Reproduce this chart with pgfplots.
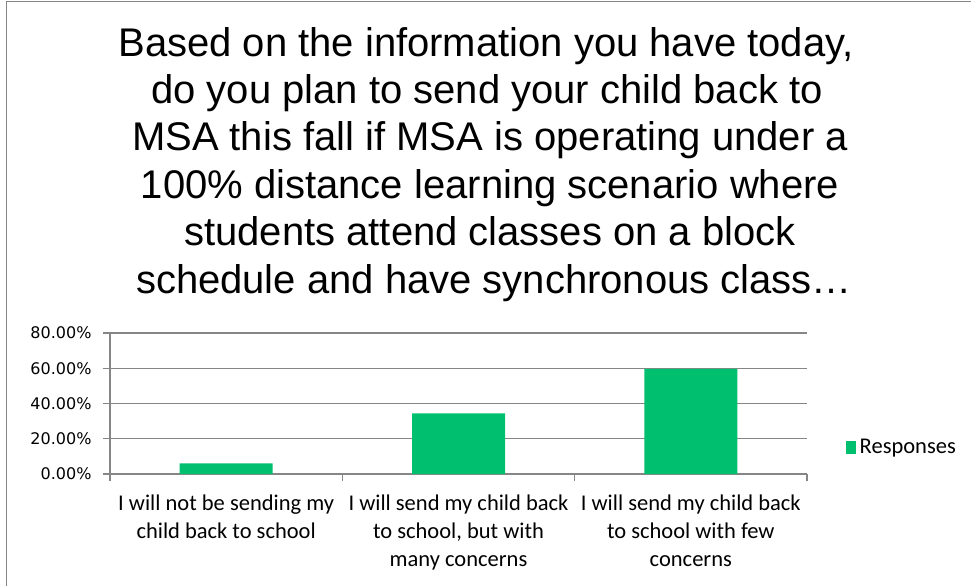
\documentclass[border=0pt]{standalone}
\usepackage{fontspec}
\setmainfont{Liberation Sans}
\newfontfamily\calibri{Carlito}
\newfontfamily\tickfont{DejaVu Sans}
\usepackage{pgfplots}
\pgfplotsset{compat=1.18}
\definecolor{bargreen}{RGB}{0,191,111}
\definecolor{axgray}{RGB}{134,134,134}
\begin{document}
\begin{tikzpicture}
\useasboundingbox (0,0) rectangle (971bp,-586bp);
\draw[axgray, line width=1.5bp] (6.5bp,-586bp) -- (6.5bp,-1.5bp) -- (971bp,-1.5bp);
\begin{scope}[every node/.style={anchor=base, font=\fontsize{40bp}{44bp}\selectfont, inner sep=0pt}]
\node at (486bp,-56bp) {Based on the information you have today,};
\node at (487bp,-103.4bp) {do you plan to send your child back to};
\node at (490bp,-150.8bp) {MSA this fall if MSA is operating under a};
\node at (490bp,-198.2bp) {100\% distance learning scenario where};
\node at (490bp,-245.6bp) {students attend classes on a block};
\node at (494bp,-293bp) {schedule and have synchronous class…};
\end{scope}
\begin{axis}[
  at={(110bp,-474bp)}, anchor=south west,
  scale only axis, width=697bp, height=141bp,
  xmin=-0.5, xmax=2.5, ymin=0, ymax=80,
  ybar, bar width=93bp,
  axis x line*=bottom, axis y line*=left,
  axis line style={axgray, line width=1.2bp},
  ytick={0,20,40,60,80},
  yticklabels={0.00\%,20.00\%,40.00\%,60.00\%,80.00\%},
  ymajorgrids, grid style={axgray, line width=1.2bp},
  xtick={0,1,2},
  xticklabels={{I will not be sending my\\child back to school},{I will send my child back\\to school, but with\\many concerns},{I will send my child back\\to school with few\\concerns}},
  minor xtick={-0.5,0.5,1.5,2.5},
  tick align=outside, major tick length=7bp, minor tick length=7bp,
  major x tick style={draw=none},
  tick style={axgray, line width=1.2bp},
  yticklabel style={font=\tickfont\fontsize{16bp}{18bp}\selectfont, xshift=-8bp},
  xticklabel style={align=center, font=\calibri\fontsize{22.5bp}{28.2bp}\selectfont, yshift=-10bp},
  legend style={draw=none, fill=none, at={(1.056,0.19)}, anchor=west, font=\calibri\fontsize{22.5bp}{24bp}\selectfont, inner sep=0pt, nodes={inner xsep=3.5bp}},
  clip=false,
]
\addplot[fill=bargreen, draw=none, legend image code/.code={\fill[bargreen] (0bp,-6.5bp) rectangle (10bp,6.5bp);}] coordinates {(0,6.1) (1,34.4) (2,59.6)};
\addlegendentry{Responses}
\end{axis}
\end{tikzpicture}
\end{document}
